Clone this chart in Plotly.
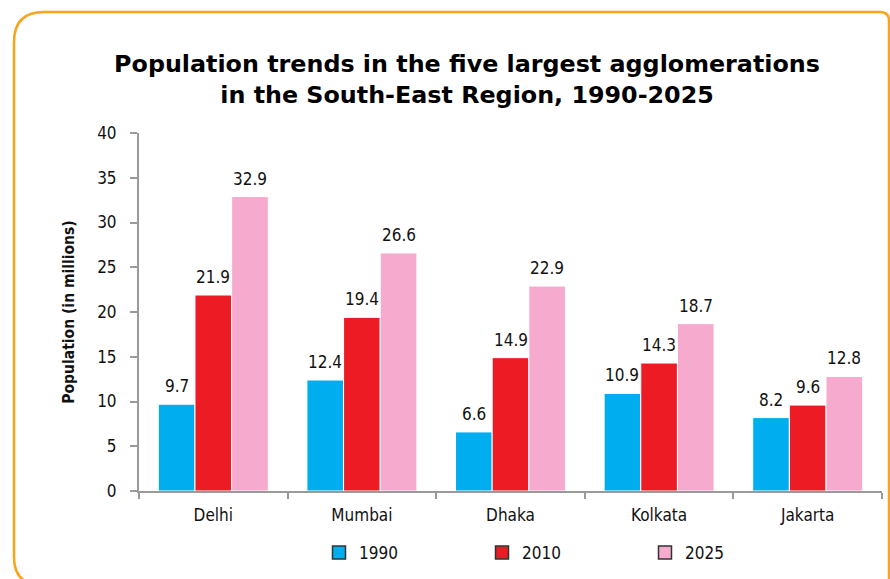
import plotly.graph_objects as go

cities = ["Delhi", "Mumbai", "Dhaka", "Kolkata", "Jakarta"]
pop_1990 = [9.7, 12.4, 6.6, 10.9, 8.2]
pop_2010 = [21.9, 19.4, 14.9, 14.3, 9.6]
pop_2025 = [32.9, 26.6, 22.9, 18.7, 12.8]
series_names = ["1990", "2010", "2025"]
colors = ["#00AEEF", "#ED1C24", "#F5AACE"]

W, H = 890, 579
ML, MR, MT, MB = 139, 8, 133, 88
PW, PH = W - ML - MR, H - MT - MB
BARGAP = 0.26

def px(x):
    return (x - ML) / PW

def py(y):
    return (H - MB - y) / PH

NARROW = "DejaVu Sans Condensed"
FS = 17

fig = go.Figure()
all_series = [pop_1990, pop_2010, pop_2025]
for name, vals, col in zip(series_names, all_series, colors):
    fig.add_trace(go.Bar(
        x=cities, y=vals, name=name, showlegend=False,
        marker=dict(color=col, line=dict(color="white", width=1)),
    ))
for name, col in zip(series_names, colors):
    fig.add_trace(go.Scatter(
        x=[None], y=[None], mode="markers", name=name,
        marker=dict(symbol="square", size=13, color=col, line=dict(color="#333", width=1.5)),
    ))

# value labels above bars (shifted to each bar of the group)
bar_w = PW / len(cities) * (1 - BARGAP) / len(all_series)
for i, vals in enumerate(all_series):
    shift = (i - (len(all_series) - 1) / 2) * bar_w
    for c, v in zip(cities, vals):
        fig.add_annotation(x=c, y=v, xref="x", yref="y", text=f"{v:.1f}",
                           showarrow=False, xshift=shift, yshift=6, yanchor="bottom",
                           font=dict(family=NARROW, size=FS, color="#111"))

# rounded orange frame
pts = [(42, 585), (14, 585), (14, 557), (14, 42), (14, 12), (44, 12), (880, 12), (889, 12), (889, 21), (889, 600)]
p = [(px(a), py(b)) for a, b in pts]
path = (f"M {p[0][0]},{p[0][1]} Q {p[1][0]},{p[1][1]} {p[2][0]},{p[2][1]} "
        f"L {p[3][0]},{p[3][1]} Q {p[4][0]},{p[4][1]} {p[5][0]},{p[5][1]} "
        f"L {p[6][0]},{p[6][1]} Q {p[7][0]},{p[7][1]} {p[8][0]},{p[8][1]} "
        f"L {p[9][0]},{p[9][1]}")
fig.add_shape(type="path", path=path, xref="paper", yref="paper",
              line=dict(color="#F8A51E", width=2.5), layer="below")

fig.update_layout(
    width=W, height=H,
    margin=dict(l=ML, r=MR, t=MT, b=MB),
    paper_bgcolor="white", plot_bgcolor="white",
    barmode="group", bargap=BARGAP, bargroupgap=0,
    title=dict(
        text="Population trends in the five largest agglomerations<br>in the South-East Region, 1990-2025",
        font=dict(family="DejaVu Sans", size=23.8, color="black", weight="bold"),
        x=px(467), xref="paper", xanchor="center",
        y=1 - 72 / H, yref="container", yanchor="middle",
    ),
    xaxis=dict(
        showline=True, linecolor="#9A9A9A", linewidth=2,
        ticks="outside", tickson="boundaries", ticklen=6, tickcolor="#9A9A9A", tickwidth=2,
        tickfont=dict(family=NARROW, size=FS, color="#111"), ticklabelstandoff=8,
        showgrid=False, zeroline=False,
    ),
    yaxis=dict(
        range=[0, 40], dtick=5, showline=True, linecolor="#9A9A9A", linewidth=2,
        ticks="outside", ticklen=7, tickcolor="#9A9A9A", tickwidth=2,
        tickfont=dict(family=NARROW, size=FS, color="#111"), ticklabelstandoff=10,
        showgrid=False, zeroline=False,
        title=dict(text="<b>Population (in millions)</b>", font=dict(family=NARROW, size=15.5, color="#111"), standoff=19),
    ),
    legend=dict(
        orientation="h", x=px(319), xanchor="left", y=py(553), yanchor="middle",
        entrywidth=118, entrywidthmode="pixels",
        font=dict(family=NARROW, size=FS, color="#111"),
        bgcolor="rgba(0,0,0,0)",
    ),
)

fig.write_html("out.html", config={"displayModeBar": False},
               post_script="document.body.style.margin='0';document.body.style.overflow='hidden';")
